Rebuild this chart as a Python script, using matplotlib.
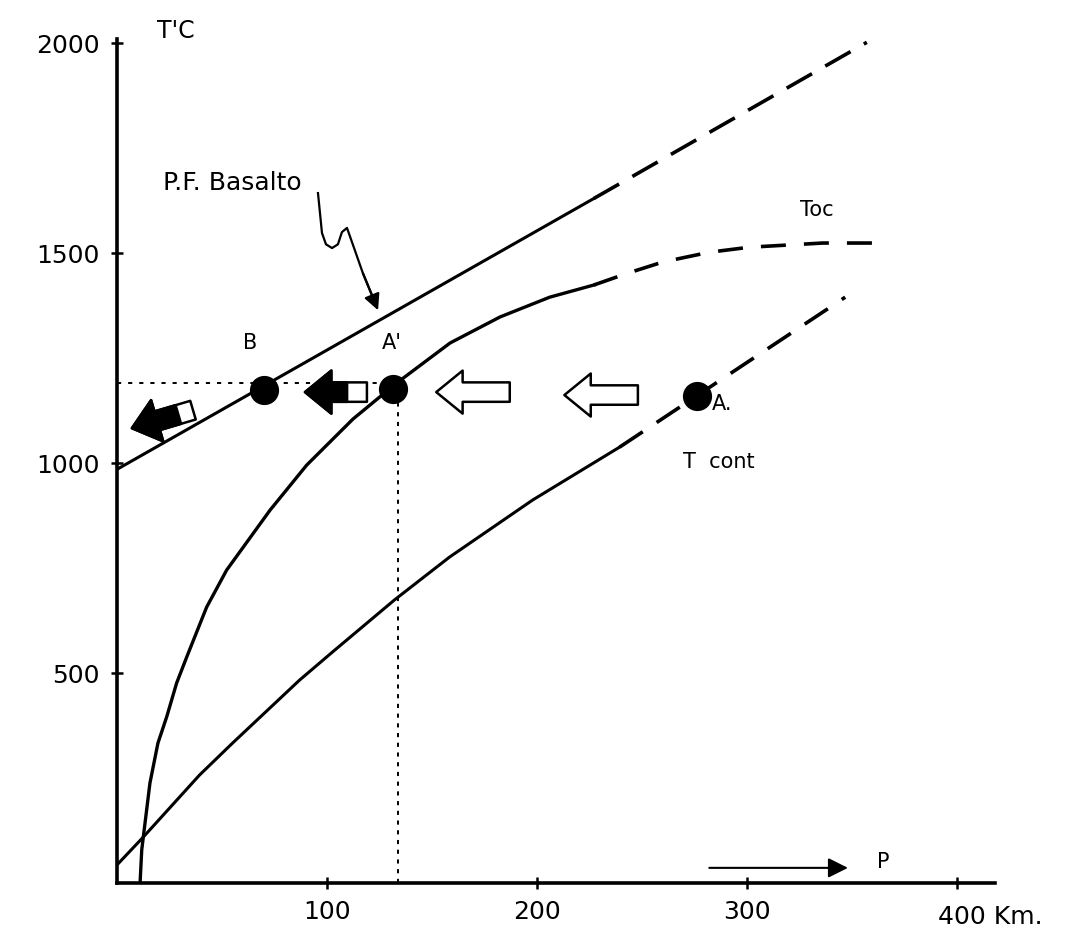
import numpy as np
import matplotlib
matplotlib.use('Agg')
import matplotlib.pyplot as plt
from matplotlib.patches import FancyArrowPatch

plt.rcParams['lines.scale_dashes'] = False
plt.rcParams['font.family'] = ['DejaVu Sans']

# P.F. Basalto (solid part, dashed extension)
basalto_x = [0, 227]
basalto_y = [985, 1630]
basalto_dash_x = [227, 357]
basalto_dash_y = [1630, 2002]

# Toc curve
toc_x = [11, 11.8, 15.7, 19.5, 23.7, 28.4, 33.2, 42.7, 52.2, 72.9, 90.3, 112.4,
         133, 158.6, 182.4, 206, 227]
toc_y = [0, 79, 238, 333, 396, 476, 538, 657, 745, 888, 995, 1105,
         1190, 1286, 1348, 1395, 1424]
toc_dash_x = [227, 243, 260, 282, 301, 336, 362]
toc_dash_y = [1424, 1452, 1479, 1502, 1514, 1524, 1524]

# T cont curve
tcont_x = [0, 12.1, 39.3, 55, 86.9, 102.6, 132.1, 158.3, 197.9, 239.3]
tcont_y = [43, 107, 257, 333, 483, 550, 674, 776, 912, 1038]
tcont_dash_x = [239.3, 346.7]
tcont_dash_y = [1038, 1395]

# points B, A', A
pt_names = ['B', "A'", 'A.']
pt_x = [70, 131.4, 276]
pt_y = [1174, 1176, 1160]

# dotted guides
guide_T = 1190
guide_P = 134

# wavy pointer from the label to the basalt line
wave_x = [95.7, 97.6, 99.5, 102.4, 105.2, 107.1, 109.5, 112.4, 117.1, 121.4, 124.3]
wave_y = [1643, 1548, 1521, 1512, 1521, 1550, 1560, 1519, 1452, 1400, 1364]

# block arrows: tail and head positions, black fraction from the head
arrow_tail = [(248, 1162), (187, 1169), (119, 1169), (36.2, 1126)]
arrow_head = [(213, 1162), (152, 1169), (89.5, 1169), (7.1, 1083)]
arrow_fill = [0.0, 0.0, 0.68, 0.76]

fig = plt.figure(figsize=(10.76, 9.32), dpi=100)
ax = fig.add_axes([0.1087, 0.0526, 0.816, 0.9056])
ax.set_xlim(0, 418)
ax.set_ylim(0, 2010)

ax.plot(basalto_x, basalto_y, color='black', lw=2.2)
ax.plot(basalto_dash_x, basalto_dash_y, color='black', lw=2.6, dashes=(21, 11))
ax.plot(toc_x, toc_y, color='black', lw=2.4, solid_joinstyle='round')
ax.plot(toc_dash_x, toc_dash_y, color='black', lw=2.6, dashes=(18, 13))
ax.plot(tcont_x, tcont_y, color='black', lw=2.2, solid_joinstyle='round')
ax.plot(tcont_dash_x, tcont_dash_y, color='black', lw=2.6, dashes=(20, 12))

# dotted lines
ax.plot([0, pt_x[1]], [guide_T, guide_T], color='black', lw=1.4, dashes=(3, 5))
ax.plot([guide_P, guide_P], [0, guide_T], color='black', lw=1.4, dashes=(3, 4))

ax.plot(pt_x, pt_y, 'o', color='black', markersize=20, zorder=6)


def block_arrow(tail, head, fill_frac=0.0):
    style = 'simple,head_length=19,head_width=31,tail_width=14'
    a = FancyArrowPatch(tail, head, arrowstyle=style, mutation_scale=1,
                        shrinkA=0, shrinkB=0, facecolor='white',
                        edgecolor='black', lw=1.8, zorder=4)
    ax.add_patch(a)
    if fill_frac > 0:
        mid = (head[0] + (tail[0] - head[0]) * fill_frac,
               head[1] + (tail[1] - head[1]) * fill_frac)
        b = FancyArrowPatch(mid, head, arrowstyle=style, mutation_scale=1,
                            shrinkA=0, shrinkB=0, facecolor='black',
                            edgecolor='black', lw=1.8, zorder=5)
        ax.add_patch(b)


for t, h, f in zip(arrow_tail, arrow_head, arrow_fill):
    block_arrow(t, h, f)

# wavy pointer
ax.plot(wave_x[:-1], wave_y[:-1], color='black', lw=1.6)
ax.annotate('', xy=(wave_x[-1], wave_y[-1]), xytext=(wave_x[-3], wave_y[-3]),
            arrowprops=dict(arrowstyle='-|>', color='black', lw=1.6,
                            mutation_scale=24, shrinkA=0, shrinkB=0))

# P arrow
ax.annotate('', xy=(348, 36), xytext=(282, 36),
            arrowprops=dict(arrowstyle='-|>', color='black', lw=1.5,
                            mutation_scale=30, shrinkA=0, shrinkB=0))
ax.text(365, 50, 'P', fontsize=15, ha='center', va='center')

# labels
ax.text(19, 2030, "T'C", fontsize=17, ha='left', va='center', clip_on=False)
ax.text(22, 1667, 'P.F. Basalto', fontsize=18, ha='left', va='center')
ax.text(325, 1602, 'Toc', fontsize=15, ha='left', va='center')
ax.text(269.5, 1002, 'T  cont', fontsize=15, ha='left', va='center')
ax.text(63.3, 1286, pt_names[0], fontsize=15, ha='center', va='center')
ax.text(131, 1286, pt_names[1], fontsize=15, ha='center', va='center')
ax.text(283, 1140, pt_names[2], fontsize=15, ha='left', va='center')

# axes styling
for s in ['top', 'right']:
    ax.spines[s].set_visible(False)
ax.spines['left'].set_linewidth(2.6)
ax.spines['bottom'].set_linewidth(2.6)

x_ticks = [100, 200, 300, 400]
x_labels = ['100', '200', '300', '']
y_ticks = [500, 1000, 1500, 2000]
y_labels = ['500', '1000', '1500', '2000']
ax.set_xticks(x_ticks)
ax.set_xticklabels(x_labels)
ax.set_yticks(y_ticks)
ax.set_yticklabels(y_labels)
ax.tick_params(axis='both', direction='inout', length=9, width=1.8,
               labelsize=18, pad=8)
ax.text(391, -0.04, '400 Km.', transform=ax.get_xaxis_transform(),
        fontsize=18, ha='left', va='center', clip_on=False)

fig.savefig('out.png', dpi=100)
